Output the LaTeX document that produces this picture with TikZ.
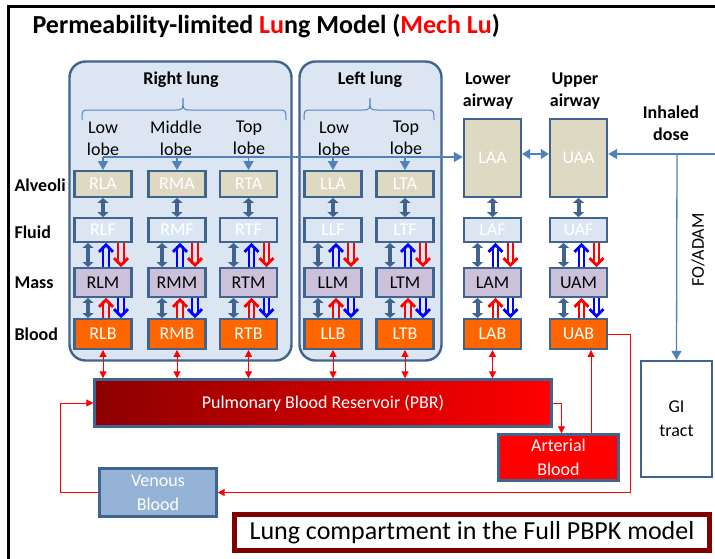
\documentclass[tikz,border=0pt]{standalone}
\usepackage{fontspec}
\setmainfont{Carlito}
\usetikzlibrary{arrows.meta,calc}
\definecolor{bord}{RGB}{65,100,143}
\definecolor{lungfill}{RGB}{220,230,242}
\definecolor{afill}{RGB}{221,217,195}
\definecolor{ffill}{RGB}{220,230,242}
\definecolor{mfill}{RGB}{204,193,218}
\definecolor{bfill}{RGB}{255,102,0}
\definecolor{venfill}{RGB}{149,179,215}
\definecolor{inl}{RGB}{79,129,189}
\definecolor{darkr}{RGB}{128,0,0}
\definecolor{pbrl}{RGB}{140,0,0}
\newcommand\chev[4]{%
  \draw[#1, line width=2.3pt] let \p1=(#3), \p2=(#4), \n1={sign(\y2-\y1)} in
   (\x1+#2-2.8pt,\y1) -- (\x1+#2-2.8pt,\y2-\n1*3pt)
   (\x1+#2+2.8pt,\y1) -- (\x1+#2+2.8pt,\y2-\n1*3pt);
  \draw[#1, line width=2.8pt, line join=miter] let \p1=(#3), \p2=(#4), \n1={sign(\y2-\y1)} in
   (\x1+#2-7pt,\y2-\n1*9pt) -- (\x1+#2,\y2-\n1*2pt) -- (\x1+#2+7pt,\y2-\n1*9pt);}
\tikzset{
  box/.style={draw=bord, line width=2.4pt, minimum width=57pt, inner sep=0pt, text=white, font=\fontsize{18}{18}\selectfont},
  abox/.style={box, fill=afill, minimum height=25.5pt},
  fbox/.style={box, fill=ffill, minimum height=23.5pt},
  mbox/.style={box, fill=mfill, minimum height=28.5pt, text=black},
  bbox/.style={box, fill=bfill, minimum height=29.5pt},
  lungbox/.style={draw=bord, fill=lungfill, line width=2.4pt, rounded corners=16pt, inner sep=0pt},
  hdr/.style={font=\bfseries\fontsize{18}{22}\selectfont, align=center},
  lobe/.style={font=\fontsize{18}{22}\selectfont, align=center},
  side/.style={font=\bfseries\fontsize{18}{18}\selectfont, anchor=west},
  dbl/.style={draw=bord, line width=4pt, {Triangle[width=11pt,length=5pt]}-{Triangle[width=11pt,length=5pt]}},
  redc/.style={draw=red, line width=1pt},
  redtip/.style={-{Triangle[width=7pt,length=7pt]}},
  redtips/.style={{Triangle[width=7pt,length=7pt]}-{Triangle[width=7pt,length=7pt]}},
  inline/.style={draw=inl, line width=1.3pt},
  intip/.style={-{Triangle[width=10pt,length=9pt]}},
  bigbox/.style={draw=bord, line width=2.4pt, inner sep=0pt, align=center, font=\fontsize{18}{24}\selectfont},
}
\begin{document}
\begin{tikzpicture}[x=1pt,y=-1pt]
\useasboundingbox (0,0) rectangle (715,558);
\clip (0,0) rectangle (715,558);
\fill[white] (0,0) rectangle (715,558);
\draw[line width=3pt] (8,570) -- (8,6) -- (730,6);
\node[anchor=base west, font=\bfseries\fontsize{26}{26}\selectfont] (title) at (29,33) {Permeability-limited \textcolor{red}{Lu}ng Model (\textcolor{red}{Mech Lu})};
% lung containers
\node[lungbox, minimum width=222pt, minimum height=299pt] (RL) at (180.5,211) {};
\node[lungbox, minimum width=142pt, minimum height=299pt] (LL) at (370.5,211) {};
\node[hdr] (RLt) at (181,80) {Right lung};
\node[hdr] (LLt) at (370,80) {Left lung};
% braces
\draw[inl, line width=1pt] (82,120) .. controls (82,110) .. (90,110) -- (175,110) .. controls (183,110) .. (183,98) .. controls (183,110) .. (191,110) -- (278,110) .. controls (286,110) .. (286,120);
\draw[inl, line width=1pt] (304,120) .. controls (304,110) .. (312,110) -- (362,110) .. controls (370,110) .. (370,98) .. controls (370,110) .. (378,110) -- (426,110) .. controls (434,110) .. (434,120);
\node[lobe] (l1) at (103,139) {Low\\lobe};
\node[lobe] (l2) at (176,138) {Middle\\lobe};
\node[lobe] (l3) at (249,138) {Top\\lobe};
\node[lobe] (l4) at (334,139) {Low\\lobe};
\node[lobe] (l5) at (406,138) {Top\\lobe};
\node[hdr] (lah) at (488,91) {Lower\\airway};
\node[hdr] (uah) at (575,91) {Upper\\airway};
\node[hdr] (inh) at (671,123) {Inhaled\\dose};
% side labels
\node[side] (sA) at (11,185) {Alveoli};
\node[side] (sF) at (11,232) {Fluid};
\node[side] (sM) at (11,283) {Mass};
\node[side] (sB) at (11,334) {Blood};
% compartments
\foreach \k/\x in {RL/103,RM/177,RT/248.5,LL/333,LT/405}{
  \node[abox] (\k A) at (\x,184) {\k A};
}
\node[box, fill=afill, minimum height=77.5pt] (LAA) at (492.5,158) {LAA};
\node[box, fill=afill, minimum height=77.5pt] (UAA) at (578.5,158) {UAA};
\foreach \k/\x in {RL/103,RM/177,RT/248.5,LL/333,LT/405,LA/492.5,UA/578.5}{
  \node[fbox] (\k F) at (\x,230) {\k F};
  \node[mbox] (\k M) at (\x,282.5) {\k M};
  \node[bbox] (\k B) at (\x,334) {\k B};
  \draw[dbl] (\k A) -- (\k F);
  \draw[dbl] ($(\k F.south)+(-15,0)$) -- ($(\k M.north)+(-15,0)$);
  \draw[dbl] ($(\k M.south)+(-15,0)$) -- ($(\k B.north)+(-15,0)$);
  \chev{blue}{3pt}{\k M.north}{\k F.south}
  \chev{red}{18pt}{\k F.south}{\k M.north}
  \chev{red}{3pt}{\k B.north}{\k M.south}
  \chev{blue}{18pt}{\k M.south}{\k B.north}
}
% big boxes
\node[bigbox, minimum width=457pt, minimum height=47pt, left color=pbrl, right color=red, text=white] (PBR) at (323,403) {Pulmonary Blood Reservoir (PBR)};
\node[bigbox, minimum width=120pt, minimum height=46pt, fill=red, text=white] (Art) at (558.5,457.5) {Arterial\\Blood};
\node[bigbox, minimum width=117pt, minimum height=48pt, fill=venfill, text=white] (Ven) at (158,492.5) {Venous\\Blood};
\node[bigbox, minimum width=71pt, minimum height=116pt, fill=white] (GI) at (676.5,419) {GI\\tract};
\node[draw=darkr, line width=4.5pt, minimum width=475pt, minimum height=36pt, fill=white, font=\fontsize{26}{26}\selectfont] (LC) at (472,532.5) {Lung compartment in the Full PBPK model};
% inhaled dose lines
\coordinate (ie) at (716,154);
\coordinate (ib) at (677,154);
\coordinate (hs) at (103,157);
\draw[inline, intip] (ie) -- (UAA.east |- ie);
\draw[inline, intip] (ib) -- (GI.north);
\node[font=\fontsize{18}{18}\selectfont, rotate=90] (fo) at (698,250) {FO/ADAM};
\draw[inline, {Triangle[width=10pt,length=8pt]}-{Triangle[width=10pt,length=8pt]}] (LAA.east |- ie) -- (UAA.west |- ie);
\draw[inline, intip] (hs) -- (LAA.west |- hs);
\foreach \k in {RLA,RMA,RTA,LLA,LTA}{
  \draw[inline, intip] (\k.north |- hs) -- (\k.north);
}
% blood connections
\foreach \k in {RLB,RMB,RTB,LLB,LTB,LAB}{
  \draw[redc, redtips] (\k.south) -- (\k.south |- PBR.north);
}
\coordinate (ua) at ($(UAB.south)+(12.5,0)$);
\draw[redc, redtip] (Art.north -| ua) -- (ua);
\draw[redc, redtip] (UAB.east) -- ++(22,0) |- (Ven.east);
\draw[redc, redtip] (PBR.east) -| ($(Art.north)+(3,0)$);
\draw[redc, redtip] (Ven.west) -- ++(-38,0) |- (PBR.west);
\end{tikzpicture}
\end{document}
